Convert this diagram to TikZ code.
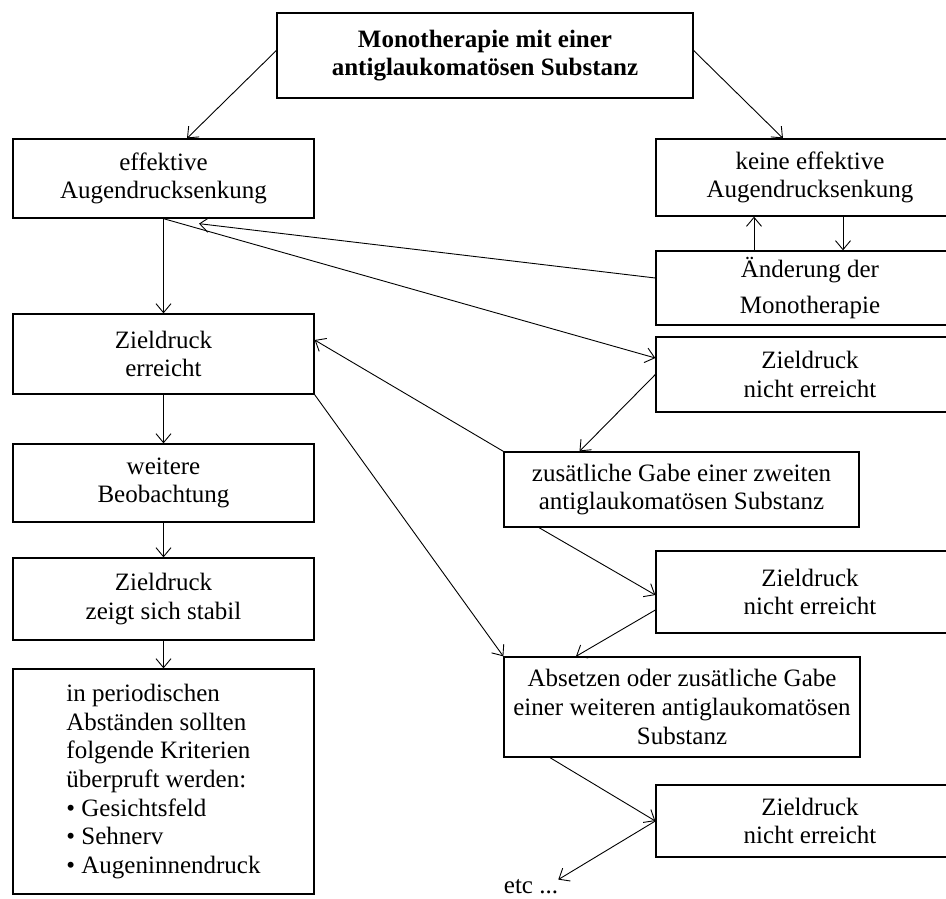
\documentclass[tikz,border=0pt]{standalone}
\usepackage{fontspec}
\setmainfont{Liberation Serif}
\usetikzlibrary{arrows.meta}

\begin{document}
\begin{tikzpicture}[x=1pt,y=-1pt,
  box/.style={draw,line width=1.3pt,align=center,inner sep=0pt,font=\fontsize{25}{28.7}\selectfont},
  arr/.style={line width=0.9pt,-{Straight Barb[length=9pt,width=15pt]}}]
  \useasboundingbox (0,0) rectangle (946,898);
  \node[box,font=\bfseries\fontsize{25}{28.7}\selectfont,minimum width=416pt,minimum height=85pt] (mono) at (485,55.5) {Monotherapie mit einer\\antiglaukomatösen Substanz};
  \node[box,minimum width=301pt,minimum height=79pt] (eff) at (163.5,178.5) {effektive\\Augendrucksenkung};
  \node[box,minimum width=308pt,minimum height=77pt] (keine) at (810,177.5) {keine effektive\\Augendrucksenkung};
  \node[box,font=\fontsize{25}{36}\selectfont,minimum width=308pt,minimum height=74pt] (aend) at (810,288) {Änderung der\\Monotherapie};
  \node[box,minimum width=301pt,minimum height=80pt] (erreicht) at (163.5,354) {Zieldruck\\erreicht};
  \node[box,minimum width=308pt,minimum height=75pt] (nicht1) at (810,374.5) {Zieldruck\\nicht erreicht};
  \node[box,minimum width=301pt,minimum height=78pt] (weiter) at (163.5,483) {weitere\\Beobachtung};
  \node[box,minimum width=355pt,minimum height=75pt] (zweite) at (681.5,489.5) {zusätliche Gabe einer zweiten\\antiglaukomatösen Substanz};
  \node[box,minimum width=301pt,minimum height=82pt] (stabil) at (163.5,599) {Zieldruck\\zeigt sich stabil};
  \node[box,minimum width=308pt,minimum height=82pt] (nicht2) at (810,592) {Zieldruck\\nicht erreicht};
  \node[box,minimum width=356pt,minimum height=100pt] (absetzen) at (682,707) {Absetzen oder zusätliche Gabe\\einer weiteren antiglaukomatösen\\Substanz};
  \node[box,align=left,minimum width=301pt,minimum height=225pt] (kontrolle) at (163.5,781.5) {in periodischen\\Abständen sollten\\folgende Kriterien\\überpruft werden:\\• Gesichtsfeld\\• Sehnerv\\• Augeninnendruck};
  \node[box,minimum width=308pt,minimum height=72pt] (nicht3) at (810,821) {Zieldruck\\nicht erreicht};
  \node[font=\fontsize{25}{28.7}\selectfont,inner sep=0pt] (etc) at (531,887) {etc ...};

  \draw[arr] ([yshift=5pt]mono.west) -- ([xshift=23.5pt]eff.north);
  \draw[arr] ([yshift=5pt]mono.east) -- ([xshift=-27pt]keine.north);
  \draw[arr] ([xshift=-56pt]aend.north) -- ([xshift=-56pt]keine.south);
  \draw[arr] ([xshift=33pt]keine.south) -- ([xshift=33pt]aend.north);
  \draw[arr] ([yshift=10pt]aend.west) -- ([xshift=35.5pt,yshift=-5pt]eff.south);
  \draw[arr] (eff.south) -- (erreicht.north);
  \draw[arr] (eff.south) -- ([yshift=16.5pt]nicht1.west);
  \draw[arr] (nicht1.west) -- ([xshift=-102pt]zweite.north);
  \draw[arr] (zweite.north west) -- ([yshift=14pt]erreicht.east);
  \draw[arr] (erreicht.south east) -- (absetzen.north west);
  \draw[arr] (erreicht.south) -- (weiter.north);
  \draw[arr] (weiter.south) -- (stabil.north);
  \draw[arr] (stabil.south) -- (kontrolle.north);
  \draw[arr] ([xshift=-142.5pt]zweite.south) -- ([yshift=-3pt]nicht2.west);
  \draw[arr] ([yshift=-18pt]nicht2.west) -- ([xshift=-106pt]absetzen.north);
  \draw[arr] ([xshift=-132pt]absetzen.south) -- (nicht3.west);
  \draw[arr] (nicht3.west) -- (etc.north east);
\end{tikzpicture}
\end{document}
